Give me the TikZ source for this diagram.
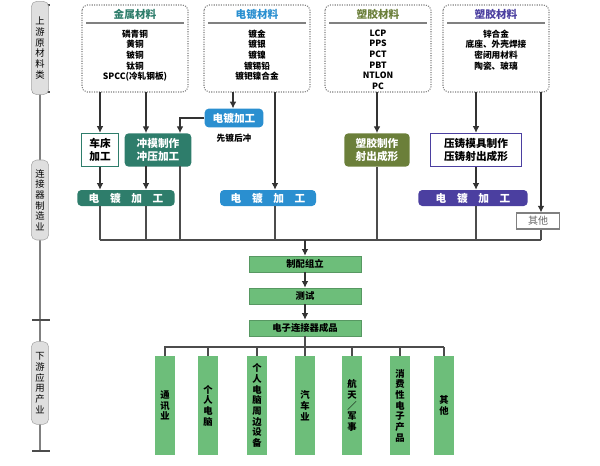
\documentclass[tikz,border=0pt]{standalone}
\usepackage{fontspec}
\setmainfont{Noto Sans CJK SC}
\usetikzlibrary{arrows.meta,positioning}
\definecolor{metalC}{HTML}{2E7D6B}
\definecolor{plateC}{HTML}{2A8FD0}
\definecolor{plastC}{HTML}{6B7F3A}
\definecolor{otherC}{HTML}{4B3FA0}
\definecolor{prodC}{HTML}{6DBE7A}
\tikzset{
  flow/.style={-{Latex[length=5pt,width=5pt]}, black!80, line width=0.8pt},
  wire/.style={black!70, line width=0.8pt},
  matbox/.style={draw=gray, densely dotted, thick, rounded corners=4pt},
  proc/.style={rounded corners=3pt, text=white, font=\bfseries\fontsize{8}{10}\selectfont, inner sep=0pt},
  stage/.style={fill=prodC, draw=prodC!80!black, inner sep=0pt, font=\bfseries\fontsize{7}{8}\selectfont},
  bar/.style={fill=prodC, inner sep=0pt, font=\bfseries\fontsize{7}{8}\selectfont, align=center, anchor=north},
  capsule/.style={fill=gray!25, draw=gray!70, rounded corners=4pt, minimum width=13pt, align=center, inner sep=0pt, font=\fontsize{7}{8}\selectfont}
}
\begin{document}
\begin{tikzpicture}[x=0.75pt,y=-0.75pt]
\useasboundingbox (0,0) rectangle (600,465);

% left stage bar
\draw[wire, gray] (40,5) -- (40,451);
\foreach \y in {5,92,320,451} \draw[wire] (32,\y) -- (50,\y);
\node[capsule, minimum height=70pt] (up) at (40,48) {上\\游\\原\\材\\料\\类};
\node[capsule, minimum height=60pt] (mid) at (40,200) {连\\接\\器\\制\\造\\业};
\node[capsule, minimum height=62pt] (down) at (40,383) {下\\游\\应\\用\\产\\业};

% raw material boxes
\foreach \n/\x/\c/\t/\body in {
  metal/82/metalC/金属材料/{磷青铜\\黄铜\\铍铜\\钛铜\\SPCC(冷轧钢板)},
  plate/204/plateC/电镀材料/{镀金\\镀银\\镀镍\\镀锡铅\\镀钯镍合金},
  plast/325/plastC/塑胶材料/{LCP\\PPS\\PCT\\PBT\\NTLON\\PC},
  other/443/otherC/塑胶材料/{锌合金\\底座、外壳焊接\\密闭用材料\\陶瓷、玻璃}} {
  \draw[matbox] (\x,5) rectangle ++(106,87);
  \node[text=\c, font=\bfseries\fontsize{8}{9}\selectfont] (\n t) at (\x+53,14) {\t};
  \draw[gray, thick] (\x+4,23) -- ++(98,0);
  \node[align=center, font=\bfseries\fontsize{6.5}{8}\selectfont, anchor=north] (\n b) at (\x+53,25) {\body};
}
\coordinate (metalA) at (100,92); \coordinate (metalB) at (146,92);
\coordinate (plateA) at (233,92); \coordinate (plateB) at (275,92);
\coordinate (plastA) at (377,92);
\coordinate (otherA) at (476,92); \coordinate (otherB) at (541,92);

% processing
\node[draw=metalC, thick, minimum width=28pt, minimum height=25pt, align=center, font=\bfseries\fontsize{8}{10}\selectfont, inner sep=0pt] (lathe) at (100,150) {车床\\加工};
\node[proc, fill=metalC, minimum width=50pt, minimum height=25pt, align=center] (stamp) at (158,150) {冲模制作\\冲压加工};
\node[proc, fill=plateC, minimum width=44pt, minimum height=14pt] (preplate) at (234,118) {电镀加工};
\node[below=1pt of preplate, font=\bfseries\fontsize{6.5}{8}\selectfont] (prenote) {先镀后冲};
\node[proc, fill=plastC, minimum width=49pt, minimum height=25pt, align=center] (mold) at (377,150) {塑胶制作\\射出成形};
\node[draw=otherC, thick, minimum width=68pt, minimum height=25pt, align=center, font=\bfseries\fontsize{8}{10}\selectfont, inner sep=0pt] (die) at (476,150) {压铸模具制作\\压铸射出成形};
\node[proc, fill=metalC, minimum width=73pt, minimum height=12pt] (platem) at (126,198) {电\quad 镀\quad 加\quad 工};
\node[proc, fill=plateC, minimum width=72pt, minimum height=12pt] (platep) at (268,198) {电\quad 镀\quad 加\quad 工};
\node[proc, fill=otherC, minimum width=82pt, minimum height=12pt] (plateo) at (473,198) {电\quad 镀\quad 加\quad 工};
\node[draw=gray, thick, minimum width=32pt, minimum height=12pt, inner sep=0pt, text=gray!80!black, font=\fontsize{7.5}{9}\selectfont] (others) at (538,221) {其他};
\coordinate (stampA) at (146,166); \coordinate (stampB) at (180,166);

% arrows into processing
\draw[flow] (metalA) -- (lathe.north);
\draw[flow] (metalB) -- (metalB |- stamp.north);
\draw[flow] (plateA) -- (preplate.north -| plateA);
\draw[flow] (preplate.west) -| (stampB |- stamp.north);
\draw[flow] (plastA) -- (mold.north);
\draw[flow] (otherA) -- (die.north);
\draw[flow] (plateB) -- (plateB |- platep.north);
\draw[flow] (otherB) -- (otherB |- others.north);
\draw[flow] (lathe.south) -- (lathe.south |- platem.north);
\draw[flow] (stampA) -- (stampA |- platem.north);
\draw[flow] (die.south) -- (die.south |- plateo.north);

% collecting bus
\coordinate (bus) at (305,240);
\draw[wire] (100,240) -- (541,240);
\draw[wire] (lathe.south |- platem.south) -- (100,240);
\draw[wire] (stampA |- platem.south) -- (146,240);
\draw[wire] (stampB) -- (180,240);
\draw[wire] (plateB |- platep.south) -- (275,240);
\draw[wire] (mold.south) -- (377,240);
\draw[wire] (otherA |- plateo.south) -- (476,240);
\draw[wire] (otherB |- others.south) -- (541,240);

% assembly chain
\node[stage, minimum width=84pt, minimum height=12pt] (assy) at (305,264) {制配组立};
\node[stage, minimum width=84pt, minimum height=12pt] (test) at (305,296) {测试};
\node[stage, minimum width=84pt, minimum height=12pt] (final) at (305,328) {电子连接器成品};
\draw[flow] (bus) -- (assy.north);
\draw[flow] (assy.south) -- (test.north);
\draw[flow] (test.south) -- (final.north);

% downstream
\draw[wire] (final.south) -- (305,347);
\draw[wire] (164,347) -- (444,347);
\foreach \n/\x/\t in {tel/165/{通\\讯\\业}, pc/208/{个\\人\\电\\脑}, peri/257/{个\\人\\电\\脑\\周\\边\\设\\备}, car/305/{汽\\车\\业}, aero/352/{航\\天\\／\\军\\事}, cons/400/{消\\费\\性\\电\\子\\产\\品}, misc/444/{其\\他}} {
  \node[bar, minimum width=15pt, minimum height=74pt] (\n) at (\x,356) {\t};
  \draw[wire] (\x,347) -- (\n.north);
}
\end{tikzpicture}
\end{document}
